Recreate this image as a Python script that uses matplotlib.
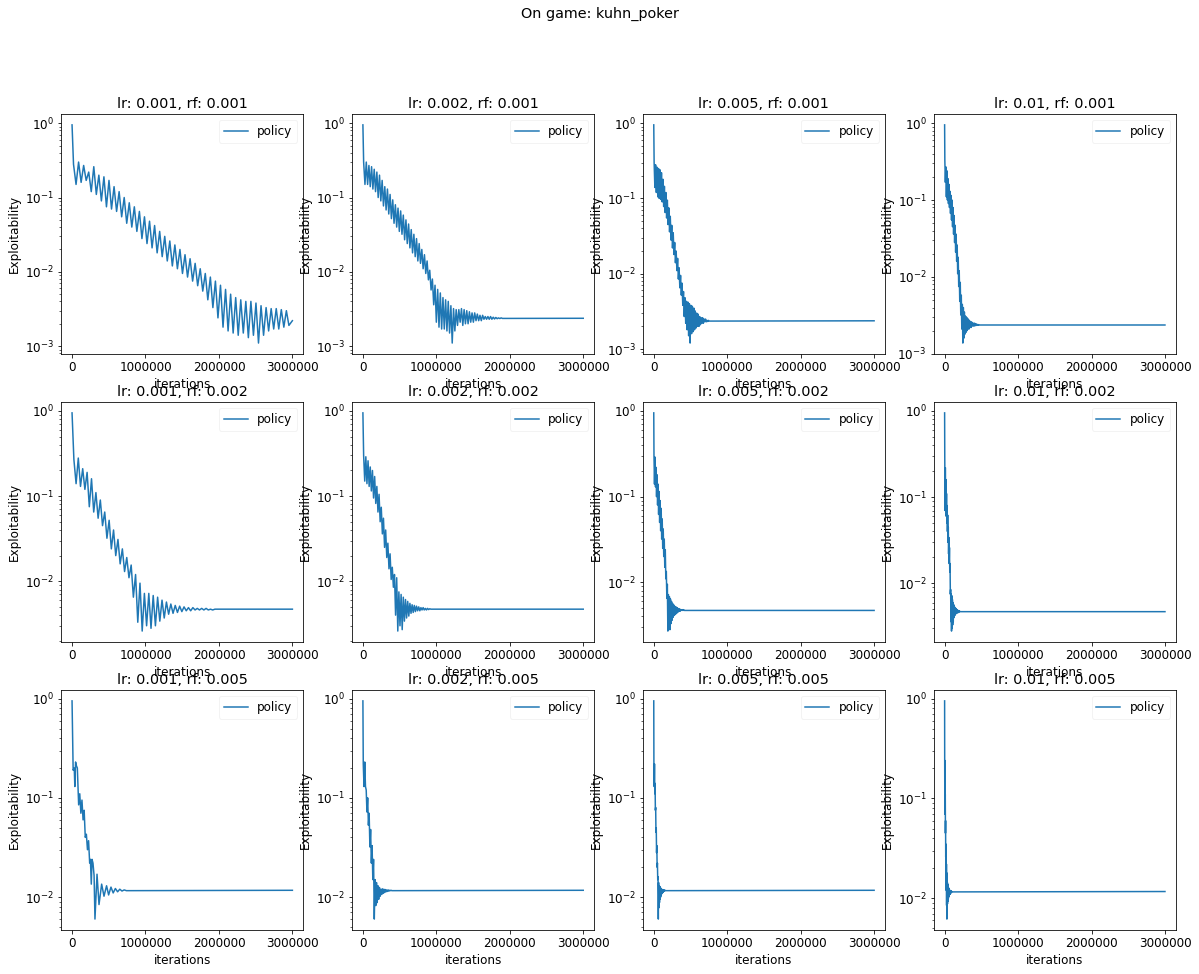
import numpy as np
import matplotlib.pyplot as plt
from matplotlib.ticker import MultipleLocator

plt.rcParams['font.size'] = 12

learning_rates = [0.001, 0.002, 0.005, 0.01]
reg_factors = [0.001, 0.002, 0.005]
game = 'kuhn_poker'

# every run starts from the same exploitability at iteration 0
start_value = 0.95
last_iter_k = 3000  # iterations / 1000

# final (converged) exploitability per rf row
final_rf_001 = 0.00237
final_rf_002 = 0.0047
final_rf_005 = 0.0117

# Oscillating runs: peaks (hi) and troughs (lo).
# first peak at x0 (k iterations), one peak + one trough every dx k iterations

# lr 0.001, rf 0.001
x0_a, dx_a = 20, 69
hi_a = [0.28, 0.30, 0.27, 0.22, 0.26, 0.20, 0.19, 0.17, 0.14, 0.12, 0.10, 0.085,
        0.075, 0.065, 0.055, 0.048, 0.042, 0.035, 0.030, 0.026, 0.023, 0.020,
        0.017, 0.015, 0.013, 0.011, 0.0095, 0.0085, 0.0075, 0.0066, 0.0058,
        0.0050, 0.0045, 0.0042, 0.0040, 0.0040, 0.0038, 0.0035, 0.0033, 0.0032,
        0.0032, 0.0031, 0.0030]
lo_a = [0.15, 0.16, 0.17, 0.12, 0.11, 0.09, 0.075, 0.07, 0.065, 0.055, 0.045, 0.04,
        0.035, 0.028, 0.024, 0.021, 0.018, 0.016, 0.014, 0.012, 0.011, 0.0095,
        0.0085, 0.0075, 0.0065, 0.0055, 0.0042, 0.0033, 0.0024, 0.0018, 0.0016,
        0.0015, 0.0014, 0.0015, 0.0013, 0.0014, 0.0011, 0.0014, 0.0016, 0.0017,
        0.0017, 0.0018, 0.0019]
end_a = 0.0022

# lr 0.002, rf 0.001
x0_b, dx_b = 10, 36
hi_b = [0.30, 0.30, 0.27, 0.26, 0.24, 0.22, 0.20, 0.17, 0.14, 0.13, 0.11, 0.093,
        0.080, 0.072, 0.066, 0.058, 0.050, 0.044, 0.037, 0.032, 0.028, 0.024,
        0.020, 0.017, 0.014, 0.0105, 0.0080, 0.0066, 0.0058, 0.0052, 0.0045,
        0.0042, 0.0040, 0.0035, 0.0032, 0.0031, 0.0031, 0.0032, 0.0031, 0.0030,
        0.0029, 0.0028, 0.0028, 0.0027, 0.0026, 0.0026, 0.0025, 0.0025, 0.0025,
        0.00245, 0.00243, 0.0024, 0.0024]
lo_b = [0.15, 0.15, 0.14, 0.13, 0.12, 0.10, 0.09, 0.077, 0.068, 0.060, 0.052, 0.045,
        0.040, 0.035, 0.032, 0.027, 0.024, 0.021, 0.018, 0.016, 0.014, 0.013,
        0.011, 0.0095, 0.0078, 0.0057, 0.0036, 0.0021, 0.0018, 0.0017, 0.0017,
        0.0016, 0.0015, 0.0011, 0.0016, 0.0019, 0.0021, 0.0019, 0.0020, 0.0020,
        0.0021, 0.0021, 0.0022, 0.0022, 0.0022, 0.0023, 0.0023, 0.0023, 0.0023,
        0.00232, 0.00234, 0.00235, 0.00236]

# lr 0.005, rf 0.001
x0_c, dx_c = 5, 20
hi_c = [0.30, 0.28, 0.26, 0.25, 0.24, 0.22, 0.18, 0.145, 0.12, 0.095, 0.075, 0.058,
        0.044, 0.035, 0.026, 0.020, 0.016, 0.012, 0.0095, 0.0075, 0.0058, 0.0048,
        0.0043, 0.0042, 0.0040, 0.0038, 0.0037, 0.0035, 0.0032, 0.0030, 0.0029,
        0.0027, 0.0026, 0.0026, 0.0025, 0.0025, 0.0024, 0.0024]
lo_c = [0.14, 0.12, 0.105, 0.10, 0.097, 0.09, 0.078, 0.065, 0.055, 0.045, 0.036,
        0.028, 0.022, 0.018, 0.014, 0.011, 0.0085, 0.0065, 0.0052, 0.0038, 0.0027,
        0.0022, 0.0018, 0.0015, 0.0012, 0.0016, 0.0017, 0.0018, 0.0019, 0.0020,
        0.0020, 0.0021, 0.0022, 0.0022, 0.0023, 0.0023, 0.00232, 0.00235]

# lr 0.01, rf 0.001
x0_d, dx_d = 3, 14
hi_d = [0.33, 0.27, 0.24, 0.19, 0.16, 0.13, 0.115, 0.10, 0.08, 0.063, 0.047, 0.036,
        0.026, 0.018, 0.012, 0.0085, 0.0058, 0.0044, 0.0040, 0.0035, 0.0031, 0.0030,
        0.0029, 0.0028, 0.0027, 0.0026, 0.0026, 0.0025, 0.0025, 0.0025, 0.00245,
        0.00243, 0.0024, 0.0024]
lo_d = [0.17, 0.11, 0.10, 0.09, 0.08, 0.067, 0.055, 0.045, 0.036, 0.028, 0.021,
        0.016, 0.011, 0.0075, 0.0048, 0.0032, 0.0021, 0.00138, 0.0016, 0.0018, 0.0019,
        0.0020, 0.0021, 0.0021, 0.0022, 0.0022, 0.0023, 0.0023, 0.0023, 0.00232,
        0.00234, 0.00235, 0.00236, 0.00237]

# lr 0.001, rf 0.002
x0_e, dx_e = 25, 60
hi_e = [0.27, 0.28, 0.21, 0.19, 0.16, 0.11, 0.09, 0.065, 0.052, 0.040, 0.031, 0.024,
        0.019, 0.0155, 0.012, 0.0095, 0.0072, 0.0072, 0.0068, 0.0065, 0.0060,
        0.0057, 0.0054, 0.0052, 0.0051, 0.0050, 0.0049, 0.0049, 0.0048, 0.0048,
        0.0048, 0.0047, 0.0047]
lo_e = [0.14, 0.13, 0.12, 0.075, 0.065, 0.055, 0.045, 0.032, 0.024, 0.020, 0.016,
        0.013, 0.011, 0.0065, 0.0033, 0.0026, 0.0030, 0.0028, 0.0030, 0.0034, 0.0037,
        0.0041, 0.0042, 0.0043, 0.0044, 0.0045, 0.0045, 0.0046, 0.0046, 0.0046,
        0.0046, 0.0046, 0.0047]

# lr 0.002, rf 0.002
x0_f, dx_f = 10, 30
hi_f = [0.30, 0.29, 0.26, 0.22, 0.20, 0.17, 0.13, 0.105, 0.074, 0.055, 0.040, 0.028,
        0.021, 0.0146, 0.012, 0.011, 0.0075, 0.0070, 0.0065, 0.0061, 0.0058, 0.0055,
        0.0053, 0.0052, 0.0051, 0.0050, 0.0049, 0.0049, 0.0048, 0.0048, 0.00475,
        0.0047, 0.0047, 0.0047]
lo_f = [0.15, 0.14, 0.13, 0.115, 0.095, 0.082, 0.065, 0.05, 0.036, 0.025, 0.019,
        0.014, 0.0105, 0.0085, 0.0040, 0.0026, 0.0030, 0.0027, 0.0034, 0.0037,
        0.0039, 0.0042, 0.0043, 0.0044, 0.0045, 0.0045, 0.0046, 0.0046, 0.0046,
        0.00465, 0.0047, 0.0047, 0.0047, 0.0047]

# lr 0.005, rf 0.002
x0_g, dx_g = 3, 14
hi_g = [0.30, 0.29, 0.22, 0.18, 0.14, 0.115, 0.09, 0.073, 0.055, 0.042, 0.032, 0.024,
        0.0134, 0.0095, 0.0072, 0.0068, 0.0064, 0.0060, 0.0057, 0.0055, 0.0053,
        0.0052, 0.0051, 0.0050, 0.0049, 0.0049, 0.0048, 0.0048, 0.0048, 0.0048]
lo_g = [0.14, 0.13, 0.10, 0.08, 0.062, 0.050, 0.040, 0.032, 0.025, 0.020, 0.015,
        0.011, 0.0065, 0.0027, 0.0032, 0.0028, 0.0033, 0.0036, 0.0039, 0.0041,
        0.0042, 0.0043, 0.0044, 0.0045, 0.0046, 0.0046, 0.0047, 0.0047, 0.0047, 0.0047]

# lr 0.01, rf 0.002
x0_h, dx_h = 2, 8
hi_h = [0.30, 0.22, 0.16, 0.11, 0.08, 0.062, 0.045, 0.034, 0.026, 0.017, 0.0085,
        0.0075, 0.0072, 0.0065, 0.0060, 0.0057, 0.0055, 0.0053, 0.0052, 0.0051,
        0.0050, 0.0049, 0.0049, 0.0048, 0.0048, 0.0048, 0.0047]
lo_h = [0.07, 0.08, 0.06, 0.05, 0.04, 0.03, 0.022, 0.017, 0.0135, 0.0075, 0.0036,
        0.0028, 0.0030, 0.0033, 0.0036, 0.0040, 0.0042, 0.0043, 0.0044, 0.0045,
        0.0045, 0.0046, 0.0046, 0.0046, 0.0047, 0.0047, 0.0047]

# lr 0.001, rf 0.005 (irregular, read point by point; k iterations)
iters_i = [0, 15, 30, 38, 48, 60, 72, 90, 105, 120, 135, 150, 165, 180, 195, 210,
           225, 240, 250, 262, 272, 285, 300, 312, 340, 367, 403, 435, 470, 498,
           530, 560, 590, 620, 650, 680, 710, 740, 3000]
expl_i = [0.95, 0.19, 0.20, 0.13, 0.23, 0.21, 0.20, 0.085, 0.11, 0.07, 0.095, 0.06,
          0.075, 0.04, 0.043, 0.03, 0.037, 0.022, 0.024, 0.0135, 0.024, 0.022,
          0.0165, 0.006, 0.017, 0.0084, 0.0135, 0.0102, 0.013, 0.0105, 0.0126,
          0.0110, 0.0122, 0.0113, 0.0120, 0.0115, 0.0118, 0.0116, 0.0117]

# lr 0.002, rf 0.005
x0_j, dx_j = 5, 20
hi_j = [0.22, 0.23, 0.12, 0.10, 0.07, 0.048, 0.033, 0.024, 0.015, 0.014, 0.013,
        0.0125, 0.012, 0.0121, 0.0120, 0.0119, 0.0118, 0.0118, 0.0117, 0.0117]
lo_j = [0.13, 0.13, 0.072, 0.053, 0.032, 0.022, 0.015, 0.006, 0.0082, 0.0088,
        0.0095, 0.0102, 0.0106, 0.0109, 0.0111, 0.0113, 0.0114, 0.0115, 0.0116, 0.0116]

# lr 0.005, rf 0.005
x0_k, dx_k = 2, 8
hi_k = [0.22, 0.22, 0.14, 0.08, 0.05, 0.033, 0.022, 0.016, 0.014, 0.013, 0.0128,
        0.0125, 0.0122, 0.012, 0.0119, 0.0119, 0.0118, 0.0118, 0.0117, 0.0117]
lo_k = [0.13, 0.11, 0.075, 0.045, 0.028, 0.02, 0.015, 0.006, 0.0078, 0.0088, 0.0095,
        0.01, 0.0105, 0.0108, 0.011, 0.0112, 0.0114, 0.0115, 0.0116, 0.0116]

# lr 0.01, rf 0.005
x0_l, dx_l = 1, 4
hi_l = [0.25, 0.24, 0.11, 0.06, 0.035, 0.026, 0.022, 0.018, 0.016, 0.0145, 0.014,
        0.0135, 0.013, 0.0128, 0.0125, 0.0123, 0.0122, 0.012, 0.012, 0.0119, 0.0119,
        0.0118, 0.0118, 0.0117, 0.0117]
lo_l = [0.07, 0.07, 0.045, 0.026, 0.018, 0.012, 0.0085, 0.0062, 0.0082, 0.0088,
        0.0093, 0.0097, 0.01, 0.0103, 0.0105, 0.0107, 0.0109, 0.011, 0.0111, 0.0112,
        0.0113, 0.0114, 0.0115, 0.0116, 0.0116]


def zigzag(x0, dx, hi, lo, final):
    xs = [0]
    ys = [start_value]
    for i, (h, l) in enumerate(zip(hi, lo)):
        xs += [x0 + i * dx, x0 + i * dx + dx / 2]
        ys += [h, l]
    xs.append(last_iter_k)
    ys.append(final)
    return np.array(xs) * 1000, ys


runs = {
    (0.001, 0.001): zigzag(x0_a, dx_a, hi_a, lo_a, end_a),
    (0.002, 0.001): zigzag(x0_b, dx_b, hi_b, lo_b, final_rf_001),
    (0.005, 0.001): zigzag(x0_c, dx_c, hi_c, lo_c, final_rf_001),
    (0.01, 0.001): zigzag(x0_d, dx_d, hi_d, lo_d, final_rf_001),
    (0.001, 0.002): zigzag(x0_e, dx_e, hi_e, lo_e, final_rf_002),
    (0.002, 0.002): zigzag(x0_f, dx_f, hi_f, lo_f, final_rf_002),
    (0.005, 0.002): zigzag(x0_g, dx_g, hi_g, lo_g, final_rf_002),
    (0.01, 0.002): zigzag(x0_h, dx_h, hi_h, lo_h, final_rf_002),
    (0.001, 0.005): (np.array(iters_i) * 1000, expl_i),
    (0.002, 0.005): zigzag(x0_j, dx_j, hi_j, lo_j, final_rf_005),
    (0.005, 0.005): zigzag(x0_k, dx_k, hi_k, lo_k, final_rf_005),
    (0.01, 0.005): zigzag(x0_l, dx_l, hi_l, lo_l, final_rf_005),
}

fig, axes = plt.subplots(3, 4, figsize=(1199 / 72, 974 / 72), dpi=72)
plt.subplots_adjust(left=0.0509, right=0.9808, bottom=0.0452, top=0.883,
                    wspace=0.2, hspace=0.2)
fig.suptitle('On game: ' + game, y=0.993)

for r, rf in enumerate(reg_factors):
    for c, lr in enumerate(learning_rates):
        ax = axes[r, c]
        x, y = runs[(lr, rf)]
        ax.plot(x, y, label='policy')
        ax.set_yscale('log')
        ax.set_title('lr: {}, rf: {}'.format(lr, rf))
        ax.set_xlabel('iterations')
        ax.set_ylabel('Exploitability')
        ax.xaxis.set_major_locator(MultipleLocator(1000000))
        ax.ticklabel_format(axis='x', style='plain')
        ax.legend(loc='upper right', edgecolor='#f0f0f0')

plt.savefig('out.png', dpi=72)
